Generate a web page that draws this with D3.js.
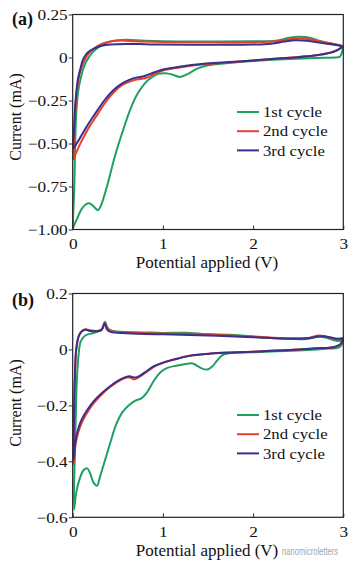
<!DOCTYPE html>
<html><head><meta charset="utf-8">
<script src="https://cdn.jsdelivr.net/npm/d3@7/dist/d3.min.js"></script>
<style>
body{margin:0;background:#fff;}
svg{display:block;font-family:"Liberation Serif","Times New Roman",serif;}
</style></head>
<body><svg id="chart" width="355" height="566"></svg>
<script>
// ---- data (potential V, current mA), scan order: 3 V -> 0 V -> 3 V ----
const seriesNames = ["1st cycle", "2nd cycle", "3rd cycle"];
const seriesColors = ["#20a060", "#e6402c", "#3b2f8c"];
const xTicks = [0, 1, 2, 3];
const aYTicks = [0.25, 0, -0.25, -0.5, -0.75, -1.0];
const aYTickLabels = ["0.25", "0", "\u22120.25", "\u22120.50", "\u22120.75", "\u22121.00"];
const bYTicks = [0.2, 0, -0.2, -0.4, -0.6];
const bYTickLabels = ["0.2", "0", "\u22120.2", "\u22120.4", "\u22120.6"];

const aCycle1 = [[3.0,0.066],[2.985,0.03],[2.96,0.004],[2.9,0.0],[2.7,-0.003],[2.4,-0.009],[2.0,-0.02],[1.7,-0.033],[1.5,-0.045],[1.38,-0.065],[1.28,-0.095],[1.19,-0.113],[1.11,-0.1],[1.03,-0.092],[0.95,-0.095],[0.87,-0.118],[0.8,-0.15],[0.72,-0.21],[0.64,-0.3],[0.56,-0.42],[0.47,-0.57],[0.38,-0.75],[0.31,-0.865],[0.28,-0.888],[0.24,-0.87],[0.19,-0.848],[0.15,-0.852],[0.1,-0.88],[0.05,-0.935],[0.02,-0.97],[0.007,-0.985],
  [0.018,-0.75],[0.028,-0.5],[0.04,-0.32],[0.06,-0.2],[0.085,-0.13],[0.12,-0.06],[0.16,-0.015],[0.22,0.03],[0.3,0.065],[0.4,0.09],[0.5,0.101],[0.6,0.103],[0.8,0.097],[1.0,0.094],[1.5,0.093],[2.0,0.094],[2.25,0.097],[2.4,0.115],[2.52,0.12],[2.63,0.115],[2.75,0.095],[2.88,0.08],[3.0,0.066]];
const aCycle2 = [[3.0,0.064],[2.93,0.042],[2.85,0.028],[2.7,0.013],[2.5,0.003],[2.2,-0.009],[2.0,-0.018],[1.7,-0.03],[1.45,-0.04],[1.2,-0.057],[1.0,-0.076],[0.9,-0.097],[0.82,-0.118],[0.77,-0.123],[0.72,-0.127],[0.65,-0.137],[0.55,-0.16],[0.45,-0.205],[0.35,-0.27],[0.27,-0.335],[0.2,-0.39],[0.14,-0.445],[0.09,-0.495],[0.05,-0.54],[0.02,-0.575],[0.008,-0.592],
  [0.015,-0.5],[0.025,-0.35],[0.04,-0.23],[0.06,-0.14],[0.09,-0.07],[0.13,-0.018],[0.18,0.025],[0.25,0.058],[0.35,0.084],[0.45,0.096],[0.55,0.099],[0.7,0.094],[1.0,0.09],[1.5,0.088],[2.0,0.089],[2.25,0.094],[2.4,0.106],[2.52,0.11],[2.65,0.105],[2.8,0.088],[2.92,0.076],[3.0,0.065]];
const aCycle3 = [[3.0,0.066],[2.93,0.042],[2.85,0.027],[2.7,0.013],[2.5,0.002],[2.2,-0.009],[2.0,-0.017],[1.7,-0.028],[1.45,-0.037],[1.2,-0.052],[1.0,-0.07],[0.9,-0.087],[0.82,-0.103],[0.76,-0.112],[0.7,-0.117],[0.64,-0.127],[0.55,-0.15],[0.45,-0.19],[0.35,-0.25],[0.27,-0.31],[0.2,-0.365],[0.14,-0.415],[0.09,-0.46],[0.05,-0.495],[0.02,-0.52],[0.008,-0.527],
  [0.015,-0.42],[0.025,-0.3],[0.04,-0.2],[0.06,-0.12],[0.09,-0.055],[0.12,-0.005],[0.17,0.03],[0.23,0.05],[0.32,0.068],[0.42,0.076],[0.6,0.079],[0.8,0.077],[1.0,0.075],[1.5,0.074],[2.0,0.075],[2.2,0.08],[2.35,0.093],[2.47,0.1],[2.6,0.097],[2.75,0.085],[2.9,0.074],[3.0,0.066]];

const bCycle1 = [[3.0,0.038],[2.98,0.015],[2.94,0.006],[2.85,0.003],[2.5,-0.004],[2.0,-0.01],[1.75,-0.013],[1.66,-0.02],[1.6,-0.04],[1.55,-0.06],[1.49,-0.072],[1.42,-0.066],[1.33,-0.05],[1.25,-0.052],[1.15,-0.058],[1.05,-0.066],[0.97,-0.082],[0.9,-0.112],[0.82,-0.155],[0.76,-0.175],[0.7,-0.182],[0.62,-0.2],[0.55,-0.225],[0.48,-0.27],[0.42,-0.33],[0.35,-0.405],[0.3,-0.458],[0.27,-0.487],[0.23,-0.475],[0.19,-0.44],[0.16,-0.425],[0.12,-0.432],[0.08,-0.46],[0.04,-0.51],[0.015,-0.572],
  [0.03,-0.3],[0.045,-0.12],[0.065,-0.02],[0.09,0.03],[0.14,0.05],[0.22,0.058],[0.3,0.067],[0.335,0.078],[0.358,0.099],[0.38,0.082],[0.41,0.07],[0.5,0.064],[0.8,0.061],[1.0,0.059],[1.25,0.06],[1.5,0.055],[1.8,0.052],[2.1,0.043],[2.4,0.038],[2.6,0.037],[2.72,0.045],[2.8,0.043],[2.9,0.033],[2.96,0.03],[3.0,0.038]];
const bCycle2 = [[3.0,0.04],[2.97,0.018],[2.9,0.008],[2.7,0.004],[2.5,0.0],[2.2,-0.005],[2.0,-0.008],[1.7,-0.011],[1.5,-0.015],[1.3,-0.022],[1.1,-0.038],[1.0,-0.048],[0.9,-0.062],[0.8,-0.085],[0.72,-0.102],[0.68,-0.107],[0.63,-0.1],[0.58,-0.102],[0.5,-0.115],[0.4,-0.138],[0.3,-0.168],[0.22,-0.197],[0.15,-0.232],[0.1,-0.262],[0.06,-0.298],[0.03,-0.345],[0.01,-0.41],
  [0.015,-0.25],[0.025,-0.1],[0.04,0.0],[0.07,0.05],[0.1,0.065],[0.14,0.072],[0.2,0.068],[0.26,0.066],[0.32,0.07],[0.355,0.096],[0.38,0.075],[0.42,0.066],[0.6,0.061],[1.0,0.057],[1.3,0.056],[1.6,0.052],[2.0,0.046],[2.4,0.04],[2.6,0.041],[2.73,0.05],[2.8,0.047],[2.9,0.038],[3.0,0.04]];
const bCycle3 = [[3.0,0.04],[2.97,0.02],[2.9,0.009],[2.7,0.004],[2.5,0.0],[2.2,-0.005],[2.0,-0.008],[1.7,-0.012],[1.5,-0.016],[1.3,-0.023],[1.1,-0.038],[1.0,-0.047],[0.9,-0.06],[0.8,-0.082],[0.72,-0.098],[0.68,-0.1],[0.63,-0.096],[0.58,-0.1],[0.5,-0.112],[0.4,-0.135],[0.3,-0.163],[0.22,-0.19],[0.15,-0.222],[0.1,-0.25],[0.06,-0.285],[0.03,-0.33],[0.01,-0.395],
  [0.015,-0.24],[0.025,-0.09],[0.04,0.005],[0.07,0.05],[0.1,0.064],[0.14,0.07],[0.2,0.066],[0.26,0.065],[0.32,0.07],[0.355,0.094],[0.38,0.072],[0.42,0.063],[0.6,0.058],[1.0,0.054],[1.3,0.052],[1.6,0.049],[2.0,0.044],[2.4,0.038],[2.6,0.04],[2.75,0.047],[2.85,0.044],[2.93,0.038],[3.0,0.04]];

// ---- drawing ----
const svg = d3.select("#chart");
const X0 = 72.7, X1 = 343.3;

function stretch(sel, f){
  sel.each(function(){
    const w = this.getComputedTextLength();
    d3.select(this).attr("textLength", w * f).attr("lengthAdjust", "spacingAndGlyphs");
  });
}

function panel(opts){
  const g = svg.append("g");
  const x = d3.scaleLinear().domain([0, 3]).range([X0, X1]);
  const y = d3.scaleLinear().domain(opts.yDomain).range(opts.yRange);
  const top = opts.yRange[1], bot = opts.yRange[0];
  const clipId = "clip" + opts.id;
  g.append("clipPath").attr("id", clipId).append("rect")
    .attr("x", X0).attr("y", top).attr("width", X1 - X0).attr("height", bot - top);

  const line = d3.line().x(d => x(d[0])).y(d => y(d[1])).curve(d3.curveCatmullRom.alpha(0.5));
  const plot = g.append("g").attr("clip-path", `url(#${clipId})`);
  opts.series.forEach((s, i) => {
    plot.append("path").datum(s).attr("d", line)
      .attr("fill", "none").attr("stroke", seriesColors[i])
      .attr("stroke-width", 2).attr("stroke-linejoin", "round");
  });

  // x axis (ticks inward)
  const xa = g.append("g").attr("transform", `translate(0,${bot})`)
    .call(d3.axisBottom(x).tickValues(xTicks).tickSize(-4).tickPadding(9).tickFormat(d3.format("d")));
  xa.select(".domain").remove();
  xa.selectAll("line").attr("stroke", "#333");
  xa.selectAll("text").attr("font-size", 15).attr("fill", "#111").attr("font-family", "Liberation Serif");
  stretch(xa.selectAll("text"), 1.15);

  // y axis (ticks outward)
  const ya = g.append("g").attr("transform", `translate(${X0},0)`)
    .call(d3.axisLeft(y).tickValues(opts.yTicks).tickSize(4).tickPadding(1)
      .tickFormat((d, i) => opts.yTickLabels[i]));
  ya.select(".domain").remove();
  ya.selectAll("line").attr("stroke", "#333");
  ya.selectAll("text").attr("font-size", 15).attr("fill", "#111").attr("font-family", "Liberation Serif");
  stretch(ya.selectAll("text"), 1.15);

  // frame
  g.append("rect").attr("x", X0).attr("y", top).attr("width", X1 - X0).attr("height", bot - top)
    .attr("fill", "none").attr("stroke", "#222").attr("stroke-width", 1.2);

  // axis titles
  g.append("text").attr("x", (X0 + X1) / 2 - 1).attr("y", opts.xLabelY)
    .attr("text-anchor", "middle").attr("font-size", 17).attr("fill", "#111")
    .text("Potential applied (V)");
  g.append("text").attr("transform", `translate(21,${opts.yLabelY}) rotate(-90)`)
    .attr("text-anchor", "middle").attr("font-size", 16).attr("fill", "#111")
    .text("Current (mA)");

  // panel letter
  g.append("text").attr("x", 12).attr("y", opts.letterY).attr("font-size", 18)
    .attr("font-weight", "bold").attr("fill", "#111").text(opts.letter);

  // legend
  const lg = g.append("g");
  seriesNames.forEach((n, i) => {
    const yy = opts.legendY + i * 19.2;
    lg.append("line").attr("x1", 237).attr("x2", 259).attr("y1", yy).attr("y2", yy)
      .attr("stroke", seriesColors[i]).attr("stroke-width", 2);
    const t = lg.append("text").attr("x", 263).attr("y", yy).attr("dy", "0.33em")
      .attr("font-size", 15.5).attr("fill", "#111").text(n);
    stretch(t, 1.08);
  });
}

panel({id: "a", letter: "(a)", letterY: 25, yDomain: [-1, 0.25], yRange: [229.5, 14.5],
  yTicks: aYTicks, yTickLabels: aYTickLabels, series: [aCycle1, aCycle2, aCycle3],
  xLabelY: 268, yLabelY: 117, legendY: 112});
panel({id: "b", letter: "(b)", letterY: 306, yDomain: [-0.6, 0.2], yRange: [517.3, 293.5],
  yTicks: bYTicks, yTickLabels: bYTickLabels, series: [bCycle1, bCycle2, bCycle3],
  xLabelY: 556, yLabelY: 403, legendY: 415});

// watermark
svg.append("text").attr("transform", "translate(282,555) scale(1,1.5)")
  .attr("font-size", 7.6).attr("font-family", "Liberation Sans, sans-serif")
  .attr("fill", "#9a9a9a").attr("opacity", 0.9)
  .text("nanomicroletters");
</script></body></html>
